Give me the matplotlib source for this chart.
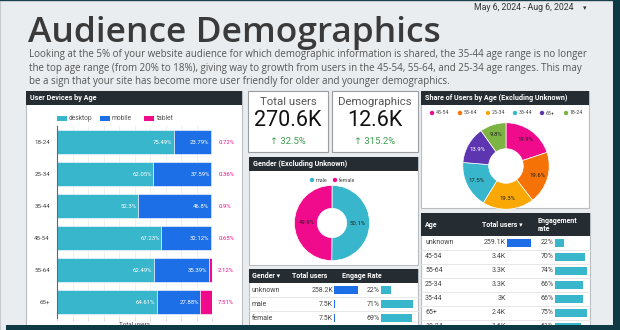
import matplotlib
matplotlib.use('Agg')
import matplotlib.pyplot as plt
from matplotlib.patches import Rectangle, Circle

W, H = 620, 330

# ---- data ----
AGES = ['18-24', '25-34', '35-44', '45-54', '55-64', '65+']
DEVICES = ['desktop', 'mobile', 'tablet']
DESKTOP = [75.49, 62.05, 52.3, 67.23, 62.49, 64.61]
MOBILE = [23.79, 37.59, 46.8, 32.12, 35.39, 27.88]
TABLET = [0.72, 0.36, 0.9, 0.65, 2.12, 7.51]

KPI_NAMES = ['Total users', 'Demographics']
KPI_VALUES = ['270.6K', '12.6K']
KPI_CHANGES = ['32.5%', '315.2%']

GENDERS = ['male', 'female']
GENDER_SHARE = [50.1, 49.9]

GT_COLS = ['Gender \u25be', 'Total users', 'Engage Rate']
GT_LABELS = ['unknown', 'male', 'female']
GT_USERS = [258.2, 7.5, 7.5]  # thousands
GT_RATE = [22, 71, 69]

SHARE_AGES = ['45-54', '55-64', '25-34', '35-44', '65+', '18-24']
SHARE_VALUES = [19.9, 19.6, 19.3, 17.5, 13.9, 9.8]

AT_COLS = ['Age', 'Total users \u25be', 'Engagement\nrate']
AT_LABELS = ['unknown', '45-54', '55-64', '25-34', '35-44', '65+', '18-24']
AT_USERS = [259.1, 3.4, 3.3, 3.3, 3.0, 2.4, 1.6]  # thousands
AT_RATE = [22, 70, 74, 66, 66, 75, 61]

TITLE = 'Audience Demographics'
DATES = 'May 6, 2024 - Aug 6, 2024'
BLURB = ('Looking at the 5% of your website audience for which demographic information is shared, the 35-44 age range is no longer\n'
         'the top age range (from 20% to 18%), giving way to growth from users in the 45-54, 55-64, and 25-34 age ranges. This may\n'
         'be a sign that your site has become more user friendly for older and younger demographics.')

# ---- colours ----
DARK = '#0d3a45'
LIGHT = '#e9edf0'
HEAD = '#252c32'
TEAL = '#38b6cc'
BLUE = '#1c6fe6'
PINK = '#f00b8d'
SHARE_COLORS = ['#f00b8d', '#f57206', '#f9a806', '#38b6cc', '#5e35b1', '#7cb342']
TXT = '#333333'

plt.rcParams['font.family'] = ['Roboto', 'DejaVu Sans']

fig = plt.figure(figsize=(W / 100, H / 100), dpi=100)
fig.patch.set_facecolor(DARK)


def px_axes(x, y, w, h):
    return fig.add_axes([x / W, 1 - (y + h) / H, w / W, h / H])


bg = px_axes(0, 0, W, H)
bg.set_xlim(0, W)
bg.set_ylim(H, 0)
bg.axis('off')
bg.add_patch(Rectangle((0, 1), 613, 330, fc=LIGHT, ec='#c5cacf', lw=0.8))


def panel(x, y, w, h, title=None, hh=14):
    bg.add_patch(Rectangle((x, y), w, h, fc='white', ec='#b9bec3', lw=0.8))
    if title:
        bg.add_patch(Rectangle((x, y), w, hh, fc=HEAD, ec='none'))
        bg.text(x + 4, y + hh / 2, title, color='white', fontsize=5.2,
                fontweight='bold', va='center', ha='left')


# header texts
bg.text(573, 8, DATES, fontsize=6.3, color=TXT, ha='right', va='center')
bg.text(585, 8, '\u25be', fontsize=5, color=TXT, ha='center', va='center',
        family='DejaVu Sans')
bg.text(28, 42.5, TITLE, fontsize=25.5, color='#3a3a3a', ha='left', va='baseline',
        family='Open Sans', fontweight='semibold')
bg.text(29, 68, BLURB, fontsize=7, color='#555555', ha='left', va='center',
        family='Open Sans', linespacing=1.3)

# ---- User Devices by Age ----
panel(26, 91, 216, 250, 'User Devices by Age')
dev_colors = [TEAL, BLUE, PINK]
for k, (name, lx) in enumerate(zip(DEVICES, [57, 100, 144])):
    bg.add_patch(Rectangle((lx, 116), 10, 5, fc=dev_colors[k], ec='none'))
    bg.text(lx + 12, 118.5, name, fontsize=4.8, color='#555', va='center')

ax = px_axes(57, 126, 155, 192)
ypos = list(range(len(AGES)))
left2 = [d + m for d, m in zip(DESKTOP, MOBILE)]
ax.barh(ypos, DESKTOP, height=0.78, color=TEAL, edgecolor='white', linewidth=0.4, zorder=2)
ax.barh(ypos, MOBILE, left=DESKTOP, height=0.78, color=BLUE, edgecolor='white', linewidth=0.4, zorder=2)
ax.barh(ypos, TABLET, left=left2, height=0.78, color=PINK, edgecolor='white', linewidth=0.4, zorder=2)
for i in ypos:
    ax.text(DESKTOP[i] - 1, i, f'{DESKTOP[i]:g}%', color='white', fontsize=4.3,
            ha='right', va='center', zorder=3)
    ax.text(left2[i] - 1, i, f'{MOBILE[i]:g}%', color='white', fontsize=4.3,
            ha='right', va='center', zorder=3)
    ax.text(104, i, f'{TABLET[i]:g}%', color=PINK, fontsize=4.3,
            ha='left', va='center', clip_on=False)
ax.set_xlim(0, 100)
ax.set_ylim(len(AGES) - 0.5, -0.5)
ax.set_yticks(ypos)
ax.set_yticklabels(AGES, fontsize=4.5, color='#444')
ax.tick_params(axis='y', length=0, pad=5)
ax.set_xticks(range(0, 101, 10))
ax.set_xticklabels([])
ax.tick_params(axis='x', length=2, color='#ddd')
ax.grid(axis='x', color='#eeeeee', lw=0.6, zorder=0)
for s in ['top', 'right', 'bottom']:
    ax.spines[s].set_visible(False)
ax.spines['left'].set_color('#666')
ax.spines['left'].set_linewidth(0.8)
ax.set_xlabel('Total users', fontsize=4.5, color='#444')
ax.xaxis.set_label_coords(0.5, -0.022)

# ---- KPI cards ----
for name, val, chg, (cx, cw) in zip(KPI_NAMES, KPI_VALUES, KPI_CHANGES,
                                     [(248, 80), (332, 86)]):
    bg.add_patch(Rectangle((cx, 91), cw, 61, fc='white', ec='#9a9ea3', lw=0.8))
    mid = cx + cw / 2
    bg.text(mid, 102, name, fontsize=8.2, color='#555', ha='center', va='center')
    bg.text(mid, 120, val, fontsize=15.5, color='#111', ha='center', va='center')
    bg.text(mid, 141, '\u2191 ' + chg, fontsize=6.8, color='#3b9a4c',
            ha='center', va='center')

# ---- Gender donut ----
panel(249, 157, 169, 108, 'Gender (Excluding Unknown)')
for name, col, lx in zip(GENDERS, [TEAL, PINK], [312, 335]):
    bg.add_patch(Circle((lx, 180), 2.2, fc=col, ec='none'))
    bg.text(lx + 4, 180, name, fontsize=3.8, color='#444', va='center')
gax = px_axes(285, 176, 94, 94)
wedges, _, autot = gax.pie(GENDER_SHARE, colors=[TEAL, PINK], startangle=90,
                           counterclock=False, autopct=lambda p: f'{p:.1f}%',
                           pctdistance=0.68,
                           wedgeprops=dict(width=0.61, edgecolor='white', linewidth=0.5))
for t in autot:
    t.set_fontsize(4.3)
    t.set_color('#222')
gax.set_aspect('equal')
gax.patch.set_visible(False)

# ---- Gender table ----
panel(249, 269, 169, 80)
bg.add_patch(Rectangle((249, 269), 169, 14, fc=HEAD, ec='none'))
for col, x, ha in zip(GT_COLS, [252, 310, 362], ['left', 'center', 'center']):
    bg.text(x, 276, col, fontsize=5, color='white', fontweight='bold', ha=ha,
            va='center')
for i, lab in enumerate(GT_LABELS):
    yc = 290 + 14 * i
    bg.text(252, yc, lab, fontsize=5, color='#444', va='center')
    bg.text(333, yc, f'{GT_USERS[i]:g}K', fontsize=5, color='#444', va='center',
            ha='right')
    bg.text(380, yc, f'{GT_RATE[i]}%', fontsize=5, color='#444', va='center',
            ha='right')
    bg.plot([249, 418], [yc + 7, yc + 7], color='#e3e3e3', lw=0.6)
tu = px_axes(334, 283, 24, 42)
tu.barh([i + 0.5 for i in range(3)], GT_USERS, height=0.6, color=BLUE)
tu.set_xlim(0, max(GT_USERS))
tu.set_ylim(3, 0)
tu.axis('off')
tr = px_axes(381, 283, 32, 42)
tr.barh([i + 0.5 for i in range(3)], GT_RATE, height=0.6, color=TEAL)
tr.set_xlim(0, max(GT_RATE))
tr.set_ylim(3, 0)
tr.axis('off')

# ---- Share of users by age ----
panel(421, 91, 168, 117, 'Share of Users by Age (Excluding Unknown)')
for name, col, lx in zip(SHARE_AGES, SHARE_COLORS, [432, 460, 488, 515, 542, 566]):
    bg.add_patch(Circle((lx, 113), 2.2, fc=col, ec='none'))
    bg.text(lx + 4, 113, name, fontsize=3.8, color='#444', va='center')
sax = px_axes(452, 112, 108, 108)
wedges, _, autot = sax.pie(SHARE_VALUES, colors=SHARE_COLORS, startangle=90,
                           counterclock=False, autopct=lambda p: f'{p:.1f}%',
                           pctdistance=0.76,
                           wedgeprops=dict(width=0.6, edgecolor='white', linewidth=0.5))
for t, name in zip(autot, SHARE_AGES):
    t.set_fontsize(4.3)
    t.set_color('white' if name == '65+' else '#222')
sax.set_aspect('equal')
sax.patch.set_visible(False)

# ---- Age table ----
panel(421, 213, 169, 130)
bg.add_patch(Rectangle((421, 213), 169, 23, fc=HEAD, ec='none'))
for col, x, ha in zip(AT_COLS, [425, 482, 538], ['left', 'left', 'left']):
    bg.text(x, 225, col, fontsize=5, color='white', fontweight='bold', ha=ha,
            va='center', linespacing=1.0)
for i, lab in enumerate(AT_LABELS):
    yc = 243 + 14 * i
    bg.text(425, yc, lab, fontsize=5, color='#444', va='center')
    bg.text(506, yc, f'{AT_USERS[i]:g}K', fontsize=5, color='#444', va='center',
            ha='right')
    bg.text(554, yc, f'{AT_RATE[i]}%', fontsize=5, color='#444', va='center',
            ha='right')
    bg.plot([421, 590], [yc + 7, yc + 7], color='#e3e3e3', lw=0.6)
n = len(AT_LABELS)
au = px_axes(507, 236, 24, 14 * n)
au.barh([i + 0.5 for i in range(n)], AT_USERS, height=0.6, color=BLUE)
au.set_xlim(0, max(AT_USERS))
au.set_ylim(n, 0)
au.axis('off')
ar = px_axes(555, 236, 32, 14 * n)
ar.barh([i + 0.5 for i in range(n)], AT_RATE, height=0.6, color=TEAL)
ar.set_xlim(0, max(AT_RATE))
ar.set_ylim(n, 0)
ar.axis('off')

# ---- dark frame on top ----
top = px_axes(0, 0, W, H)
top.set_xlim(0, W)
top.set_ylim(H, 0)
top.axis('off')
top.patch.set_alpha(0)
top.add_patch(Rectangle((6, 325), W, 10, fc=DARK, ec='none'))
top.add_patch(Rectangle((613, 0), 10, H, fc=DARK, ec='none'))

fig.savefig('out.png', dpi=100, facecolor=fig.get_facecolor())
